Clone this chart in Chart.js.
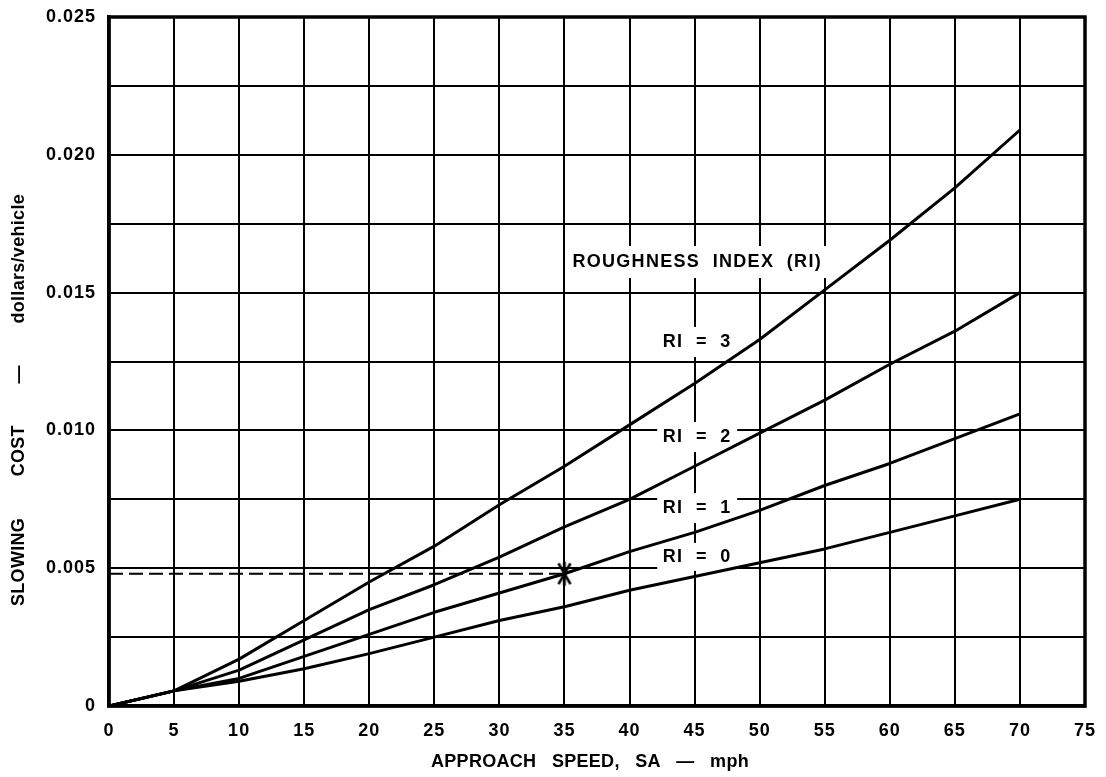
<!DOCTYPE html>
<html>
<head>
<meta charset="utf-8">
<script src="https://cdn.jsdelivr.net/npm/chart.js@4/dist/chart.umd.min.js"></script>
<style>
  html, body { margin: 0; padding: 0; background: #fff; }
  #wrap { width: 1106px; height: 777px; }
</style>
</head>
<body>
<div id="wrap"><canvas id="chart" width="1106" height="777"></canvas></div>
<script>
// Approach speed (mph) at which each curve is read
const speeds = [0, 5, 10, 15, 20, 25, 30, 35, 40, 45, 50, 55, 60, 65, 70];

// Slowing cost (dollars/vehicle) for each roughness index
const ri0 = [0, 0.00055, 0.0009, 0.00135, 0.0019, 0.0025, 0.0031, 0.0036, 0.0042, 0.0047, 0.0052, 0.0057, 0.0063, 0.0069, 0.0075];
const ri1 = [0, 0.00055, 0.0010, 0.0018, 0.0026, 0.0034, 0.0041, 0.0048, 0.0056, 0.0063, 0.0071, 0.0080, 0.0088, 0.0097, 0.0106];
const ri2 = [0, 0.00055, 0.0013, 0.0024, 0.0035, 0.0044, 0.0054, 0.0065, 0.0075, 0.0087, 0.0099, 0.0111, 0.0124, 0.0136, 0.0150];
const ri3 = [0, 0.00055, 0.0017, 0.0031, 0.0045, 0.0058, 0.0073, 0.0087, 0.0102, 0.0117, 0.0133, 0.0151, 0.0169, 0.0188, 0.0209];

const seriesNames = ['RI  =  0', 'RI  =  1', 'RI  =  2', 'RI  =  3'];
const legendTitle = 'ROUGHNESS  INDEX  (RI)';

// Worked example: read-off at 35 mph on the RI = 1 curve
const exampleSpeed = 35;
const exampleCost = 0.0048;

// Axis ticks and titles
const xTicks = [0, 5, 10, 15, 20, 25, 30, 35, 40, 45, 50, 55, 60, 65, 70, 75];
const yTickLabels = ['0', '0.005', '0.010', '0.015', '0.020', '0.025'];
const xTitleWords = ['APPROACH', 'SPEED,', 'SA', '\u2014', 'mph'];
const yTitleWords = ['SLOWING', 'COST', '\u2014', 'dollars/vehicle'];

// Where the in-plot captions sit (data coordinates)
const captionPlaces = [
  { text: legendTitle,    x: 45.2, y: 0.01611, w: 262, h: 32 },
  { text: seriesNames[3], x: 45.2, y: 0.01321, w: 80,  h: 30 },
  { text: seriesNames[2], x: 45.2, y: 0.00976, w: 80,  h: 30 },
  { text: seriesNames[1], x: 45.2, y: 0.00718, w: 80,  h: 30 },
  { text: seriesNames[0], x: 45.2, y: 0.00541, w: 80,  h: 28 }
];

const FONT = '"Liberation Sans", Arial, Helvetica, sans-serif';

function toPoints(ys) {
  return speeds.map((s, i) => ({ x: s, y: ys[i] }));
}

// Six-armed asterisk used for the read-off point
function asterisk() {
  const c = document.createElement('canvas');
  c.width = 30; c.height = 30;
  const g = c.getContext('2d');
  g.strokeStyle = '#000';
  g.lineWidth = 2.6;
  const r = 12;
  [90, 60, 120].forEach(a => {
    const t = a * Math.PI / 180;
    g.beginPath();
    g.moveTo(15 - r * Math.cos(t), 15 + r * Math.sin(t));
    g.lineTo(15 + r * Math.cos(t), 15 - r * Math.sin(t));
    g.stroke();
  });
  return c;
}

// Words laid out along a line of given total length, centred on (cx, cy)
function drawWords(ctx, words, total, cx, cy, rotate) {
  const widths = words.map(w => ctx.measureText(w).width);
  const sum = widths.reduce((a, b) => a + b, 0);
  const gap = (total - sum) / (words.length - 1);
  ctx.save();
  ctx.translate(cx, cy);
  if (rotate) ctx.rotate(-Math.PI / 2);
  ctx.textAlign = 'left';
  ctx.textBaseline = 'middle';
  let pos = -total / 2;
  words.forEach((w, i) => {
    ctx.fillText(w, pos, 0);
    pos += widths[i] + gap;
  });
  ctx.restore();
}

const lineStyle = {
  borderColor: '#000',
  borderWidth: 3,
  pointRadius: 0,
  tension: 0,
  fill: false,
  borderCapStyle: 'butt',
  borderJoinStyle: 'round'
};

// White patches behind the captions, drawn over the grid and under the curves
const captionBoxes = {
  id: 'captionBoxes',
  beforeDatasetsDraw(chart) {
    const { ctx, scales: { x, y } } = chart;
    ctx.save();
    ctx.fillStyle = '#fff';
    captionPlaces.forEach(p => {
      const px = x.getPixelForValue(p.x), py = y.getPixelForValue(p.y);
      ctx.fillRect(px - p.w / 2, py - p.h / 2, p.w, p.h);
    });
    ctx.restore();
  },
  afterDatasetsDraw(chart) {
    const { ctx, chartArea: a, scales: { x, y } } = chart;
    ctx.save();
    ctx.fillStyle = '#000';
    ctx.font = 'bold 18px ' + FONT;
    ctx.textAlign = 'center';
    ctx.textBaseline = 'middle';
    ctx.letterSpacing = '1.3px';
    captionPlaces.forEach(p => {
      ctx.fillText(p.text, x.getPixelForValue(p.x), y.getPixelForValue(p.y));
    });
    // heavy frame round the plotting area
    ctx.letterSpacing = '0px';
    ctx.strokeStyle = '#000';
    ctx.lineWidth = 3.5;
    ctx.strokeRect(a.left, a.top, a.right - a.left, a.bottom - a.top);
    ctx.restore();
  },
  afterDraw(chart) {
    const { ctx } = chart;
    ctx.save();
    ctx.fillStyle = '#000';
    ctx.font = 'bold 18px ' + FONT;
    ctx.letterSpacing = '0.3px';
    drawWords(ctx, xTitleWords, 318, 590, 762, false);
    drawWords(ctx, yTitleWords, 412, 19, 400, true);
    ctx.restore();
  }
};

// Tick labels are spaced a little wider than the default
const tickSpacing = {
  id: 'tickSpacing',
  beforeDraw(chart) { chart.ctx.letterSpacing = '1px'; },
  afterDraw(chart) { chart.ctx.letterSpacing = '0px'; }
};

new Chart(document.getElementById('chart'), {
  type: 'line',
  data: {
    datasets: [
      Object.assign({ label: seriesNames[0], data: toPoints(ri0) }, lineStyle),
      Object.assign({ label: seriesNames[1], data: toPoints(ri1) }, lineStyle),
      Object.assign({ label: seriesNames[2], data: toPoints(ri2) }, lineStyle),
      Object.assign({ label: seriesNames[3], data: toPoints(ri3) }, lineStyle),
      {
        label: 'read-off',
        data: [{ x: 0, y: exampleCost }, { x: exampleSpeed, y: exampleCost }],
        borderColor: '#000',
        borderWidth: 2,
        borderDash: [14, 6],
        pointRadius: 0,
        fill: false
      },
      {
        label: 'example',
        type: 'scatter',
        data: [{ x: exampleSpeed, y: exampleCost }],
        pointStyle: asterisk(),
        pointRadius: 15,
        showLine: false
      }
    ]
  },
  options: {
    responsive: false,
    animation: false,
    events: [],
    layout: { padding: { top: 17, right: 21, bottom: 0, left: 0 } },
    plugins: { legend: { display: false }, tooltip: { enabled: false } },
    scales: {
      x: {
        type: 'linear',
        min: 0, max: 75,
        afterBuildTicks(scale) { scale.ticks = xTicks.map(v => ({ value: v })); },
        afterFit(scale) {
          scale.height = 71;
          scale.paddingLeft = 0;
          scale.paddingRight = 0;
        },
        grid: { color: '#000', lineWidth: 2, drawTicks: false },
        border: { color: '#000', width: 3.5 },
        ticks: {
          color: '#000',
          padding: 14,
          maxRotation: 0,
          autoSkip: false,
          font: { family: FONT, size: 18, weight: 'bold' },
          callback: v => String(v)
        }
      },
      y: {
        type: 'linear',
        min: 0, max: 0.025,
        ticks: {
          stepSize: 0.0025,
          color: '#000',
          padding: 13,
          autoSkip: false,
          font: { family: FONT, size: 18, weight: 'bold' },
          callback: v => {
            const k = Math.round(v / 0.0025);
            return k % 2 === 0 ? yTickLabels[k / 2] : '';
          }
        },
        afterFit(scale) {
          scale.width = 109;
          scale.paddingTop = 0;
          scale.paddingBottom = 0;
        },
        grid: { color: '#000', lineWidth: 2, drawTicks: false },
        border: { color: '#000', width: 3.5 }
      }
    }
  },
  plugins: [tickSpacing, captionBoxes]
});
</script>
</body>
</html>
